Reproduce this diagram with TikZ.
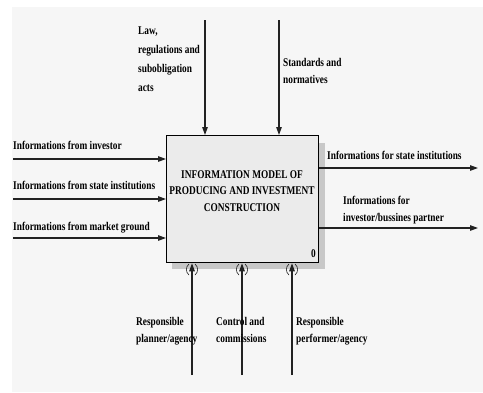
\documentclass[tikz,border=0pt]{standalone}
\usepackage{fontspec}
\setmainfont{Liberation Serif}[FakeStretch=0.79]
\usetikzlibrary{arrows.meta}
\definecolor{bgc}{HTML}{F6F6F6}
\definecolor{boxc}{HTML}{EBEBEB}
\definecolor{shc}{HTML}{C8C8C8}
\definecolor{linec}{HTML}{222222}
\tikzset{
  lbl/.style={font=\bfseries\fontsize{11.8}{17}\selectfont, inner sep=0pt, align=left, text=black},
  flow/.style={draw=linec, line width=1.2pt, -{Triangle[length=8pt,width=5.5pt]}},
  tun/.style={draw=linec, line width=0.6pt},
}
\begin{document}
\begin{tikzpicture}[x=1pt,y=-1pt]
\useasboundingbox (0,0) rectangle (483,392);
\fill[white] (0,0) rectangle (483,392);
\fill[bgc] (12,7) rectangle (483,392);
% shadow and box
\fill[shc] (172,143) rectangle (325,269);
\node[draw=black, line width=1.3pt, fill=boxc, minimum width=152pt, minimum height=127pt, inner sep=0pt, anchor=north west] (box) at (166,135) {};
\node[lbl, align=center, anchor=center, font=\bfseries\fontsize{11.8}{16.5}\selectfont] (title) at (242,191) {INFORMATION MODEL OF\\PRODUCING AND INVESTMENT\\CONSTRUCTION};
\node[lbl, anchor=base east] (num) at (316,257) {0};
% top controls
\coordinate (t1) at (205,20);
\coordinate (t2) at (279,20);
\draw[flow] (t1) -- (t1 |- box.north);
\draw[flow] (t2) -- (t2 |- box.north);
\node[lbl, anchor=north west, font=\bfseries\fontsize{11.8}{19}\selectfont] (lt1) at (138,27) {Law,\\regulations and\\subobligation\\acts};
\node[lbl, anchor=north west] (lt2) at (283,58) {Standards and\\normatives};
% left inputs
\coordinate (i1) at (13,159);
\coordinate (i2) at (13,199);
\coordinate (i3) at (13,238);
\draw[flow] (i1) -- (i1 -| box.west);
\draw[flow] (i2) -- (i2 -| box.west);
\draw[flow] (i3) -- (i3 -| box.west);
\node[lbl, anchor=base west] (li1) at (13,149) {Informations from investor};
\node[lbl, anchor=base west] (li2) at (13,189) {Informations from state institutions};
\node[lbl, anchor=base west] (li3) at (13,230) {Informations from market ground};
% right outputs
\coordinate (o1) at (478,168);
\coordinate (o2) at (478,228);
\draw[flow] (o1 -| box.east) -- (o1);
\draw[flow] (o2 -| box.east) -- (o2);
\node[lbl, anchor=base west] (lo1) at (327,159) {Informations for state institutions};
\node[lbl, anchor=north west] (lo2) at (343,196) {Informations for\\investor/bussines partner};
% bottom mechanisms
\coordinate (m1) at (192,375);
\coordinate (m2) at (242,375);
\coordinate (m3) at (292,375);
\draw[flow] (m1) -- (m1 |- box.south);
\draw[flow] (m2) -- (m2 |- box.south);
\draw[flow] (m3) -- (m3 |- box.south);
\foreach \x in {192,242,292}{
  \draw[tun] (\x-3,264) .. controls (\x-6.5,267) and (\x-6.5,272) .. (\x-3,275);
  \draw[tun] (\x+3,264) .. controls (\x+6.5,267) and (\x+6.5,272) .. (\x+3,275);
}
\node[lbl, anchor=north west] (lm1) at (136,317) {Responsible\\planner/agency};
\node[lbl, anchor=north west] (lm2) at (216,317) {Control and\\commissions};
\node[lbl, anchor=north west] (lm3) at (296,317) {Responsible\\performer/agency};
\end{tikzpicture}
\end{document}
